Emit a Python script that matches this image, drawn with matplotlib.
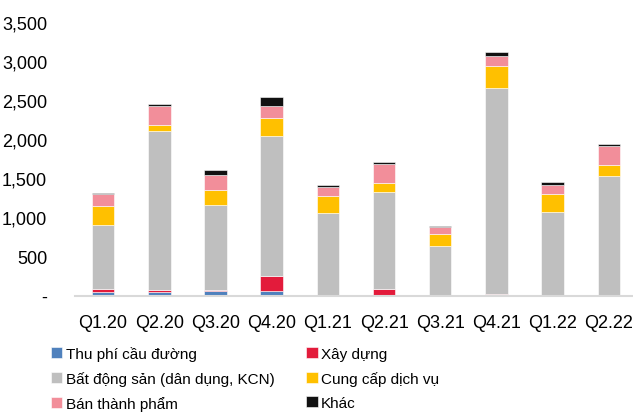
import matplotlib.pyplot as plt
import numpy as np
from matplotlib.ticker import FuncFormatter

quarters = ["Q1.20", "Q2.20", "Q3.20", "Q4.20", "Q1.21", "Q2.21", "Q3.21", "Q4.21", "Q1.22", "Q2.22"]

toll = [50, 50, 60, 64, 0, 0, 0, 0, 0, 0]
construction = [35, 17, 13, 192, 3, 85, 0, 20, 0, 5]
real_estate = [815, 2040, 1090, 1788, 1054, 1237, 632, 2630, 1075, 1530]
services = [248, 77, 183, 230, 217, 119, 153, 290, 225, 135]
semi_finished = [145, 238, 196, 157, 120, 243, 89, 123, 115, 243]
other = [18, 34, 60, 111, 21, 21, 13, 56, 34, 26]

series = [
    ("Thu phí cầu đường", toll, "#4F81BD"),
    ("Xây dựng", construction, "#E31B3B"),
    ("Bất động sản (dân dụng, KCN)", real_estate, "#BFBFBF"),
    ("Cung cấp dịch vụ", services, "#FFC000"),
    ("Bán thành phẩm", semi_finished, "#F28E9A"),
    ("Khác", other, "#111111"),
]

plt.rcParams["font.family"] = ["Liberation Sans", "DejaVu Sans"]

fig = plt.figure(figsize=(6.33, 4.14), dpi=100)
ax = fig.add_axes([75 / 633, 0.2838, 1 - 75 / 633, 0.6606])

x = np.arange(len(quarters))
bottom = np.zeros(len(quarters))
handles = {}
for name, vals, color in series:
    vals = np.array(vals, dtype=float)
    b = ax.bar(x, vals, 0.4, bottom=bottom, color=color, edgecolor="white", linewidth=0.4)
    handles[name] = b
    bottom += vals

ax.set_xlim(-0.5, 9.43)
ax.set_ylim(0, 3500)
ax.set_yticks(range(0, 3501, 500))
ax.yaxis.set_major_formatter(FuncFormatter(lambda v, p: "-" if v == 0 else f"{int(v):,}"))
ax.set_xticks(x)
ax.set_xticklabels(quarters)
ax.tick_params(axis="both", length=0, labelsize=13)
ax.tick_params(axis="x", pad=13)
ax.tick_params(axis="y", pad=20)
for s in ["top", "right", "left"]:
    ax.spines[s].set_visible(False)
ax.spines["bottom"].set_color("#D9D9D9")
ax.spines["bottom"].set_linewidth(1.5)

order = ["Thu phí cầu đường", "Bất động sản (dân dụng, KCN)", "Bán thành phẩm",
         "Xây dựng", "Cung cấp dịch vụ", "Khác"]
fig.legend([handles[n] for n in order], order, ncol=2, loc="upper left",
           bbox_to_anchor=(51 / 633, 1 - 347 / 414), frameon=False, fontsize=11,
           handlelength=0.75, handleheight=0.75, handletextpad=0.2,
           columnspacing=2.1, labelspacing=0.66, borderpad=0, borderaxespad=0)

fig.savefig("out.png", dpi=100)
